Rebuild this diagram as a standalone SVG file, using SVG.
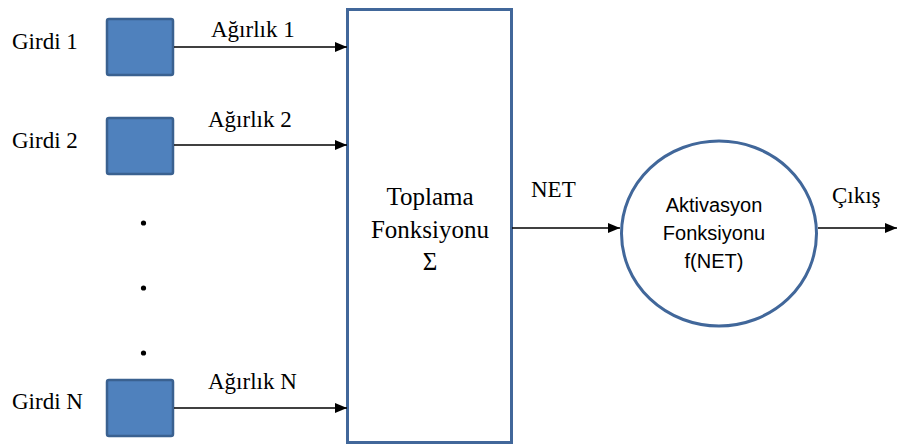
<svg xmlns="http://www.w3.org/2000/svg" width="897" height="445" viewBox="0 0 897 445">
  <style>
    .serif { font-family: "Liberation Serif", Tinos, "Times New Roman", Times, serif; font-size: 23px; fill: #000; }
    .big { font-size: 25px; }
    .sans { font-family: "Liberation Sans", Arial, sans-serif; font-size: 20px; fill: #000; }
    .input { fill: #4f81bd; stroke: #3a6190; stroke-width: 2.5; }
    .frame { fill: #fff; stroke: #41679a; stroke-width: 3; }
    .wire { stroke: #000; stroke-width: 1.6; fill: none; marker-end: url(#arrow); }
  </style>
  <defs>
    <marker id="arrow" viewBox="0 0 12 10" refX="12" refY="5" markerWidth="12" markerHeight="10" markerUnits="userSpaceOnUse" orient="auto">
      <path d="M0,0 L12,5 L0,10 Z" fill="#000"/>
    </marker>
  </defs>
  <rect width="897" height="445" fill="#fff"/>

  <!-- inputs -->
  <g id="input1">
    <text class="serif" x="12" y="49">Girdi 1</text>
    <rect class="input" x="107" y="19" width="66" height="56" rx="2"/>
  </g>
  <g id="input2">
    <text class="serif" x="12" y="148">Girdi 2</text>
    <rect class="input" x="107" y="118" width="66" height="56" rx="2"/>
  </g>
  <g id="inputN">
    <text class="serif" x="12" y="409">Girdi N</text>
    <rect class="input" x="107" y="380" width="66" height="56" rx="2"/>
  </g>

  <!-- ellipsis dots -->
  <g id="dots" fill="#000">
    <circle cx="143.5" cy="223" r="2.6"/>
    <circle cx="143.5" cy="288" r="2.6"/>
    <circle cx="143.5" cy="353" r="2.6"/>
  </g>

  <!-- summation block -->
  <g id="sum">
    <rect class="frame" x="347.5" y="9.5" width="164" height="433"/>
    <text class="serif big" x="430" y="205" text-anchor="middle">Toplama</text>
    <text class="serif big" x="430" y="238" text-anchor="middle">Fonksiyonu</text>
    <text class="serif big" x="430" y="270" text-anchor="middle">Σ</text>
  </g>

  <!-- activation block -->
  <g id="activation">
    <ellipse class="frame" cx="719" cy="233.5" rx="97.5" ry="92.5"/>
    <text class="sans" x="714" y="212" text-anchor="middle">Aktivasyon</text>
    <text class="sans" x="714" y="240" text-anchor="middle">Fonksiyonu</text>
    <text class="sans" x="714" y="268" text-anchor="middle">f(NET)</text>
  </g>

  <!-- connectors -->
  <g id="connectors">
    <line class="wire" x1="174" y1="47" x2="347" y2="47"/>
    <line class="wire" x1="174" y1="145" x2="347" y2="145"/>
    <line class="wire" x1="174" y1="408" x2="347" y2="408"/>
    <line class="wire" x1="512" y1="228" x2="620" y2="228"/>
    <line class="wire" x1="818" y1="228" x2="897" y2="228"/>
    <text class="serif" x="211" y="37">Ağırlık 1</text>
    <text class="serif" x="208" y="127">Ağırlık 2</text>
    <text class="serif" x="208" y="389">Ağırlık N</text>
    <text class="serif" x="531" y="197">NET</text>
    <text class="serif" x="832" y="203">Çıkış</text>
  </g>
</svg>
